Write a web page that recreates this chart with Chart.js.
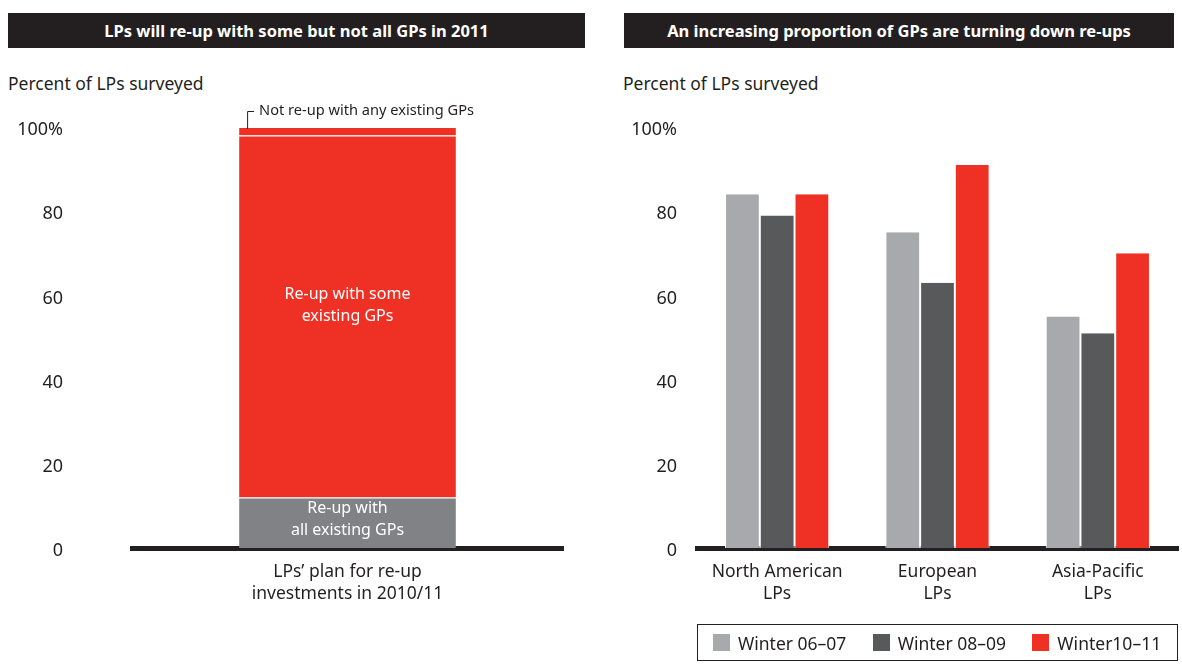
<!DOCTYPE html>
<html>
<head>
<meta charset="utf-8">
<script src="https://cdn.jsdelivr.net/npm/chart.js@4"></script>
<style>
  body { margin: 0; background: #fff; font-family: "Noto Sans", sans-serif; color: #231f20; }
  #page { position: relative; width: 1182px; height: 669px; overflow: hidden; }
  .title { position: absolute; top: 13px; height: 35px; line-height: 35px; background: #231f20; color: #fff;
           font-weight: bold; font-size: 16.5px; text-align: center; }
  .unit { position: absolute; top: 71px; font-size: 17.5px; }
  canvas { position: absolute; top: 0; }
  #legend { position: absolute; left: 697px; top: 624px; width: 479px; height: 35px; border: 1px solid #231f20;
            display: flex; align-items: center; font-size: 17.5px; }
  #legend .item { width: 160px; display: flex; align-items: center; padding-left: 15px; box-sizing: border-box; }
  #legend .box { width: 17px; height: 17px; margin-right: 8px; }
</style>
</head>
<body>
<div id="page">
  <div class="title" style="left:8px; width:577px;">LPs will re-up with some but not all GPs in 2011</div>
  <div class="title" style="left:624px; width:550px;">An increasing proportion of GPs are turning down re-ups</div>
  <div class="unit" style="left:8px;">Percent of LPs surveyed</div>
  <div class="unit" style="left:623px;">Percent of LPs surveyed</div>
  <canvas id="left" width="600" height="669" style="left:0; width:600px; height:669px;"></canvas>
  <canvas id="right" width="582" height="669" style="left:600px; width:582px; height:669px;"></canvas>
  <div id="legend"></div>
</div>
<script>
// left chart data
var planCategory = [['LPs\u2019 plan for re-up', 'investments in 2010/11']];
var reupAll = [12];
var reupSome = [86];
var reupNone = [2];
var segmentNames = ['Re-up with all existing GPs', 'Re-up with some existing GPs', 'Not re-up with any existing GPs'];

// right chart data
var regions = [['North American', 'LPs'], ['European', 'LPs'], ['Asia-Pacific', 'LPs']];
var winter0607 = [84, 75, 55];
var winter0809 = [79, 63, 51];
var winter1011 = [84, 91, 70];
var seasonNames = ['Winter 06\u201307', 'Winter 08\u201309', 'Winter10\u201311'];

var yTicks = [0, 20, 40, 60, 80, 100];

var RED = '#ee3124';
var INK = '#231f20';
var FONT = '"Noto Sans", sans-serif';

function yAxis(width, pad) {
    return {
        min: 0, max: 100,
        afterFit: function (axis) { axis.width = width; },
        afterBuildTicks: function (axis) { axis.ticks = yTicks.map(function (v) { return {value: v}; }); },
        ticks: {
            padding: pad,
            labelOffset: 3,
            color: INK,
            font: {family: FONT, size: 18},
            callback: function (v) { return v === 100 ? '100%' : v; }
        },
        grid: {display: false, drawTicks: false},
        border: {display: false}
    };
}

function xAxis() {
    return {
        afterFit: function (axis) { axis.height = 121; },
        ticks: {padding: 13, color: INK, font: {family: FONT, size: 17.5, lineHeight: 1.257}},
        grid: {display: false, drawTicks: false},
        border: {display: true, color: INK, width: 5}
    };
}

// labels inside the stacked bar and the bracket for the thin top slice
var segmentLabels = {
    id: 'segmentLabels',
    afterDatasetsDraw: function (chart) {
        var ctx = chart.ctx;
        ctx.save();
        ctx.font = '16px ' + FONT;
        ctx.fillStyle = '#fff';
        ctx.textAlign = 'center';
        ctx.textBaseline = 'middle';
        var inside = [
            {ds: 0, lines: ['Re-up with', 'all existing GPs'], shift: -3},
            {ds: 1, lines: ['Re-up with some', 'existing GPs'], shift: -11}
        ];
        inside.forEach(function (s) {
            var el = chart.getDatasetMeta(s.ds).data[0];
            var cy = (el.y + el.base) / 2 + s.shift;
            ctx.fillText(s.lines[0], el.x, cy - 11);
            ctx.fillText(s.lines[1], el.x, cy + 11);
        });
        var top = chart.getDatasetMeta(2).data[0];
        var bx = top.x - top.width / 2 + 8;
        var by = top.y - 16;
        ctx.strokeStyle = INK;
        ctx.lineWidth = 1;
        ctx.beginPath();
        ctx.moveTo(bx + 0.5, top.y + 2);
        ctx.lineTo(bx + 0.5, by + 0.5);
        ctx.lineTo(bx + 7, by + 0.5);
        ctx.stroke();
        ctx.font = '14.6px ' + FONT;
        ctx.fillStyle = INK;
        ctx.textAlign = 'left';
        ctx.fillText(segmentNames[2], bx + 12, by);
        ctx.restore();
    }
};

new Chart(document.getElementById('left'), {
    type: 'bar',
    data: {
        labels: planCategory,
        datasets: [
            {label: segmentNames[0], data: reupAll, backgroundColor: '#808285'},
            {label: segmentNames[1], data: reupSome, backgroundColor: RED},
            {label: segmentNames[2], data: reupNone, backgroundColor: RED}
        ]
    },
    options: {
        responsive: false,
        animation: false,
        layout: {padding: {left: 0, right: 37, top: 127, bottom: 0}},
        datasets: {bar: {categoryPercentage: 1, barPercentage: 0.503, borderColor: '#fff',
            borderWidth: {top: 1, left: 0, right: 0, bottom: 0}, borderSkipped: false}},
        scales: {
            x: Object.assign(xAxis(), {stacked: true}),
            y: Object.assign(yAxis(132, 69), {stacked: true})
        },
        plugins: {legend: {display: false}, tooltip: {enabled: false}}
    },
    plugins: [segmentLabels]
});

var seasonColors = ['#a7a9ac', '#58595b', RED];

new Chart(document.getElementById('right'), {
    type: 'bar',
    data: {
        labels: regions,
        datasets: [
            {label: seasonNames[0], data: winter0607, backgroundColor: seasonColors[0]},
            {label: seasonNames[1], data: winter0809, backgroundColor: seasonColors[1]},
            {label: seasonNames[2], data: winter1011, backgroundColor: seasonColors[2]}
        ]
    },
    options: {
        responsive: false,
        animation: false,
        layout: {padding: {left: 0, right: 4, top: 127, bottom: 0}},
        datasets: {bar: {categoryPercentage: 0.65, barPercentage: 1, borderColor: '#fff',
            borderWidth: {top: 0, left: 1, right: 1, bottom: 0}}},
        scales: {x: xAxis(), y: yAxis(97, 20)},
        plugins: {legend: {display: false}, tooltip: {enabled: false}}
    }
});

// legend built from the same names and colours
var legend = document.getElementById('legend');
seasonNames.forEach(function (name, i) {
    var item = document.createElement('div');
    item.className = 'item';
    var box = document.createElement('span');
    box.className = 'box';
    box.style.background = seasonColors[i];
    var txt = document.createElement('span');
    txt.textContent = name;
    item.appendChild(box);
    item.appendChild(txt);
    legend.appendChild(item);
});
</script>
</body>
</html>
